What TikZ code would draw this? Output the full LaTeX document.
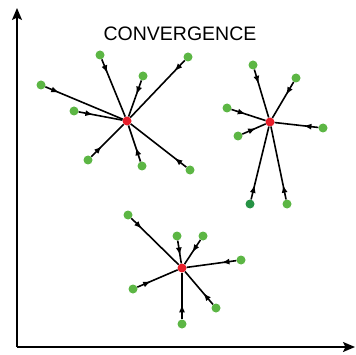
\documentclass[tikz,border=0pt]{standalone}
\usepackage{fontspec}
\setsansfont{Liberation Sans}
\usetikzlibrary{arrows.meta,decorations.markings}

\definecolor{ptgreen}{RGB}{92,182,68}
\definecolor{ptdark}{RGB}{38,146,68}
\definecolor{ptred}{RGB}{232,30,42}

\begin{document}
\begin{tikzpicture}[x=1pt,y=-1pt,
    sample/.style={circle,fill=ptgreen,inner sep=0pt,minimum size=9pt},
    centroid/.style={circle,fill=ptred,inner sep=0pt,minimum size=9pt},
    conv/.style={line width=1.6pt,postaction={decorate},
      decoration={markings,mark=at position 15pt with {\arrow{Latex[length=8pt,width=6pt]}}}},
    axis/.style={line width=1.5pt,-{Stealth[length=12pt,width=10pt,inset=2.5pt]}}]
  \useasboundingbox (0,0) rectangle (355,355);
  % axes
  \coordinate (o) at (17,347);
  \coordinate (ytop) at (17,8);
  \coordinate (xend) at (355,347);
  \draw[axis] (o) -- (ytop);
  \draw[axis] (o) -- (xend);
  % title
  \node[font=\sffamily\fontsize{19.5}{20}\selectfont] (title) at (180,33.5) {CONVERGENCE};
  % cluster centres
  \node[centroid] (c1) at (127,121) {};
  \node[centroid] (c2) at (270,122) {};
  \node[centroid] (c3) at (182,268) {};
  % cluster 1
  \foreach \n/\x/\y in {a1/100/55, a2/188/57, a3/143/76, a4/41/85,
                        a5/74/111, a6/88/160, a7/142/166, a8/190/170}{
    \node[sample] (\n) at (\x,\y) {};
    \draw[conv] (\n) -- (c1);
  }
  % cluster 2
  \foreach \n/\x/\y in {b1/253/65, b2/296/78, b3/227/108, b4/238/136,
                        b5/323/128, b7/287/204}{
    \node[sample] (\n) at (\x,\y) {};
    \draw[conv] (\n) -- (c2);
  }
  \node[sample,fill=ptdark] (b6) at (250,204) {};
  \draw[conv] (b6) -- (c2);
  % cluster 3
  \foreach \n/\x/\y in {d1/128/215, d2/177/236, d3/203/236, d4/241/260,
                        d5/133/289, d6/182/324, d7/216/308}{
    \node[sample] (\n) at (\x,\y) {};
    \draw[conv] (\n) -- (c3);
  }
\end{tikzpicture}
\end{document}
